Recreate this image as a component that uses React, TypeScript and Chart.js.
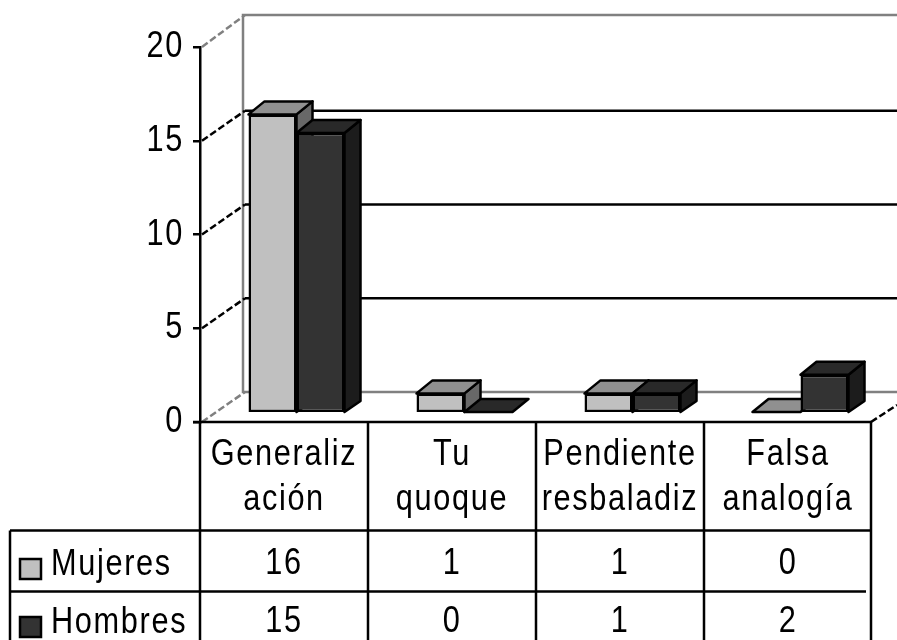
import React, { useEffect, useRef } from "react";
import { Chart, registerables } from "chart.js";

Chart.register(...registerables);

const categories = [["Generaliz", "ación"], ["Tu", "quoque"], ["Pendiente", "resbaladiz"], ["Falsa", "analogía"]];
const mujeres = [16, 1, 1, 0];
const hombres = [15, 0, 1, 2];
const yTicks = [0, 5, 10, 15, 20];
const seriesNames = ["Mujeres", "Hombres"];
const fronts = ["#c0c0c0", "#333333"];
const tops = ["#909090", "#292929"];
const sides = ["#686868", "#1c1c1c"];

const FONT = '"Liberation Sans", sans-serif';
const TEXT_SIZE = 37;
const TEXT_SQUEEZE = 0.83;
const LINE = 2.5;
const BAR_DX = 12.5;
const BAR_DY = -10;
const DEPTH_X = 16;
const DEPTH_Y = 13;
const WALL_X = 44;
const WALL_Y = 30;
const RIGHT = 897;

function condense(ctx: any) {
  if (ctx.__condensed) return;
  ctx.__condensed = true;
  const fill = ctx.fillText.bind(ctx);
  ctx.fillText = (text: string, x: number, y: number) => {
    ctx.save();
    ctx.translate(x, y);
    ctx.scale(TEXT_SQUEEZE, 1);
    fill(text, 0, 0);
    ctx.restore();
  };
}

function drawBarDepth(ctx: any, meta: any, i: number) {
  ctx.lineWidth = LINE;
  ctx.lineJoin = "round";
  ctx.strokeStyle = "#000";
  for (const bar of meta.data) {
    const l = bar.x - bar.width / 2;
    const r = bar.x + bar.width / 2;
    const t = bar.y;
    const b = bar.base;
    if (b - t > 1) {
      ctx.fillStyle = sides[i];
      ctx.beginPath();
      ctx.moveTo(r, t);
      ctx.lineTo(r + DEPTH_X, t - DEPTH_Y);
      ctx.lineTo(r + DEPTH_X, b - DEPTH_Y + 2);
      ctx.lineTo(r, b);
      ctx.closePath();
      ctx.fill();
      ctx.stroke();
    }
    ctx.fillStyle = tops[i];
    ctx.beginPath();
    ctx.moveTo(l, t);
    ctx.lineTo(l + DEPTH_X, t - DEPTH_Y);
    ctx.lineTo(r + DEPTH_X, t - DEPTH_Y);
    ctx.lineTo(r, t);
    ctx.closePath();
    ctx.fill();
    ctx.stroke();
  }
}

const threeD = {
  id: "threeD",
  beforeDraw(chart: any) {
    condense(chart.ctx);
    chart.ctx.letterSpacing = "2px";
  },
  beforeDatasetsDraw(chart: any) {
    const { ctx, chartArea: a } = chart;
    const y = chart.scales.y;
    const left = a.left;
    const wallX = left + WALL_X - 1;
    ctx.save();
    ctx.lineWidth = LINE;
    ctx.strokeStyle = "#808080";
    const top = y.getPixelForValue(20) - WALL_Y - 2;
    const floor = y.getPixelForValue(0) - WALL_Y;
    ctx.beginPath();
    ctx.moveTo(RIGHT, top);
    ctx.lineTo(wallX, top);
    ctx.lineTo(wallX, floor);
    ctx.lineTo(RIGHT, floor);
    ctx.stroke();
    for (const v of yTicks) {
      const py = y.getPixelForValue(v);
      const edge = v === 20 ? top : py - WALL_Y;
      if (v !== 0 && v !== 20) {
        ctx.strokeStyle = "#000";
        ctx.setLineDash([]);
        ctx.beginPath();
        ctx.moveTo(wallX + 2, edge);
        ctx.lineTo(RIGHT, edge);
        ctx.stroke();
      }
      ctx.strokeStyle = v === 0 || v === 20 ? "#808080" : "#000";
      ctx.setLineDash([7, 3]);
      ctx.beginPath();
      ctx.moveTo(left + 2, py);
      ctx.lineTo(wallX + 2, edge);
      ctx.stroke();
    }
    ctx.strokeStyle = "#000";
    ctx.beginPath();
    ctx.moveTo(a.right - 1, y.getPixelForValue(0));
    ctx.lineTo(RIGHT, y.getPixelForValue(0) - 17);
    ctx.stroke();
    ctx.setLineDash([]);

    // Series go back to front: the left series first, its neighbour over it.
    ctx.translate(BAR_DX, BAR_DY);
    seriesNames.forEach((_, i) => {
      const meta = chart.getDatasetMeta(i);
      drawBarDepth(ctx, meta, i);
      meta.controller.draw();
    });
    ctx.restore();
    return false;
  },
  afterDraw(chart: any) {
    const { ctx, chartArea: a } = chart;
    const x = chart.scales.x;
    const head = a.bottom;
    const row1 = 530.5;
    const row2 = 591.5;
    const bottom = 640;
    const edges = [0, 1, 2, 3].map((i) => x.getPixelForValue(i) - x.width / 8);
    ctx.save();
    ctx.strokeStyle = "#000";
    ctx.lineWidth = LINE;
    ctx.beginPath();
    ctx.moveTo(a.left - 7, head);
    ctx.lineTo(a.right - 1, head);
    for (const e of edges) {
      ctx.moveTo(e, head);
      ctx.lineTo(e, bottom);
    }
    ctx.moveTo(a.right - 1, head);
    ctx.lineTo(a.right - 1, bottom);
    ctx.moveTo(10, row1);
    ctx.lineTo(a.right - 1, row1);
    ctx.moveTo(10, row1);
    ctx.lineTo(10, bottom);
    ctx.moveTo(10, row2);
    ctx.lineTo(a.right - 6, row2);
    ctx.stroke();

    ctx.fillStyle = "#000";
    ctx.font = `${TEXT_SIZE}px ${FONT}`;
    ctx.textBaseline = "alphabetic";
    const baselines = [575, 633];
    [mujeres, hombres].forEach((vals, r) => {
      ctx.textAlign = "left";
      ctx.fillText(seriesNames[r], 51, baselines[r]);
      ctx.textAlign = "center";
      vals.forEach((v, i) => ctx.fillText(String(v), x.getPixelForValue(i), baselines[r] - 1));
      ctx.fillStyle = fronts[r];
      ctx.fillRect(20, baselines[r] - 16, 21, 20);
      ctx.strokeRect(20, baselines[r] - 16, 21, 20);
      ctx.fillStyle = "#000";
    });
    ctx.restore();
  },
};

export default function App() {
  const ref = useRef<HTMLCanvasElement>(null);
  useEffect(() => {
    document.body.style.margin = "0";
    const chart = new Chart(ref.current as HTMLCanvasElement, {
      type: "bar",
      plugins: [threeD],
      data: {
        labels: categories as any,
        datasets: [mujeres, hombres].map((data, i) => ({
          label: seriesNames[i],
          data,
          yAxisID: "yBars",
          backgroundColor: fronts[i],
          borderColor: "#000",
          borderWidth: LINE,
          borderSkipped: false,
          barPercentage: 1,
          categoryPercentage: 96 / 168,
          clip: false,
        })),
      } as any,
      options: {
        animation: false,
        responsive: false,
        events: [],
        layout: { padding: { left: 0, top: 47, right: 25, bottom: 0 } },
        plugins: { legend: { display: false }, tooltip: { enabled: false } },
        scales: {
          x: {
            grid: { display: false, drawTicks: false },
            border: { display: false },
            ticks: {
              autoSkip: false,
              maxRotation: 0,
              minRotation: 0,
              padding: 10,
              color: "#000",
              font: { family: FONT, size: TEXT_SIZE, lineHeight: "45px" },
            },
            afterFit(s: any) {
              s.height = 218;
              s.paddingLeft = s.paddingRight = s.paddingTop = s.paddingBottom = 0;
            },
          },
          y: {
            position: "left",
            min: 0,
            max: 20,
            afterBuildTicks(s: any) {
              s.ticks = yTicks.map((value) => ({ value }));
            },
            grid: { drawOnChartArea: false, color: "#000", lineWidth: LINE, tickLength: 7 },
            border: { color: "#000", width: LINE },
            ticks: {
              padding: 9,
              color: "#000",
              font: { family: FONT, size: TEXT_SIZE },
            },
            afterFit(s: any) {
              s.width = 200;
              s.paddingLeft = s.paddingRight = s.paddingTop = s.paddingBottom = 0;
            },
          },
          yBars: { display: false, position: "left", min: 0, max: 20.16 },
        },
      } as any,
    });
    return () => chart.destroy();
  }, []);
  return <canvas ref={ref} width={897} height={640} style={{ display: "block" }} />;
}
